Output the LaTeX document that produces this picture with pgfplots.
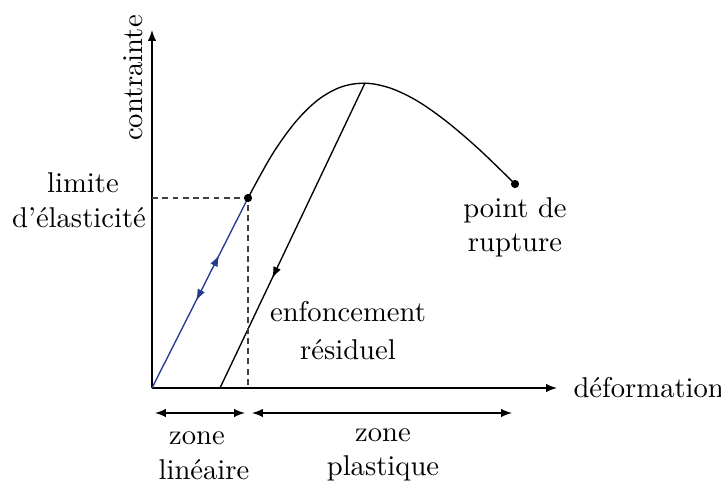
\documentclass[border=0pt]{standalone}
\usepackage{pgfplots}
\pgfplotsset{compat=1.18}
\usetikzlibrary{decorations.markings,arrows.meta}
\definecolor{myblue}{RGB}{35,60,145}
\begin{document}
\begin{tikzpicture}[every node/.style={font=\fontsize{10.6}{12.7}\selectfont}]
\begin{axis}[
  x=0.3704pt, y=0.3704pt,
  xmin=0, xmax=405, ymin=0, ymax=358,
  axis lines=left,
  axis line style={-latex},
  ticks=none,
  clip=false,
]
% curve
\addplot[black, smooth, tension=0.55, line width=0.5pt] coordinates {
 (96,190) (120.0,233.2) (143.3,265.8) (166.2,288.3) (189.4,301.1) (213.4,304.8)
 (238.6,299.8) (265.7,286.8) (295.1,266.1) (327.4,238.4) (363,204)};
% elastic line
\addplot[myblue, line width=0.5pt,
  postaction={decorate, decoration={markings,
    mark=at position 0.70 with {\arrow{Latex[length=4.2pt,width=3pt]}},
    mark=at position 0.46 with {\arrowreversed{Latex[length=4.2pt,width=3pt]}}}}]
  coordinates {(0,0) (96,190)};
% unloading line
\addplot[black, line width=0.5pt,
  postaction={decorate, decoration={markings,
    mark=at position 0.64 with {\arrow{Latex[length=4.2pt,width=3pt]}}}}]
  coordinates {(213,305) (68,0)};
% dashed
\addplot[black!75, dashed, dash pattern=on 2.2pt off 1.6pt] coordinates {(0,190) (96,190) (96,0)};
% dots
\addplot[only marks, mark=*, mark size=1.3pt, black] coordinates {(96,190) (363,204)};
% zone arrows
\addplot[latex-latex, black] coordinates {(3,-25) (93,-25)};
\addplot[latex-latex, black] coordinates {(100,-25) (360,-25)};
% labels
\node[rotate=90] at (axis cs:-19,310) {contrainte};
\node at (axis cs:-69,205) {limite};
\node at (axis cs:-73,170) {d'élasticité};
\node at (axis cs:363,178) {point de};
\node at (axis cs:363,143) {rupture};
\node at (axis cs:196,76) {enfoncement};
\node at (axis cs:196,38) {résiduel};
\node at (axis cs:45,-50) {zone};
\node at (axis cs:52,-82) {linéaire};
\node at (axis cs:231,-47) {zone};
\node at (axis cs:231,-80) {plastique};
\node[anchor=west] at (axis cs:412,0) {déformation};
\coordinate (bl) at (axis cs:-152,-96);
\coordinate (tr) at (axis cs:569,388);
\end{axis}
\pgfresetboundingbox
\path (bl) rectangle (tr);
\end{tikzpicture}
\end{document}
